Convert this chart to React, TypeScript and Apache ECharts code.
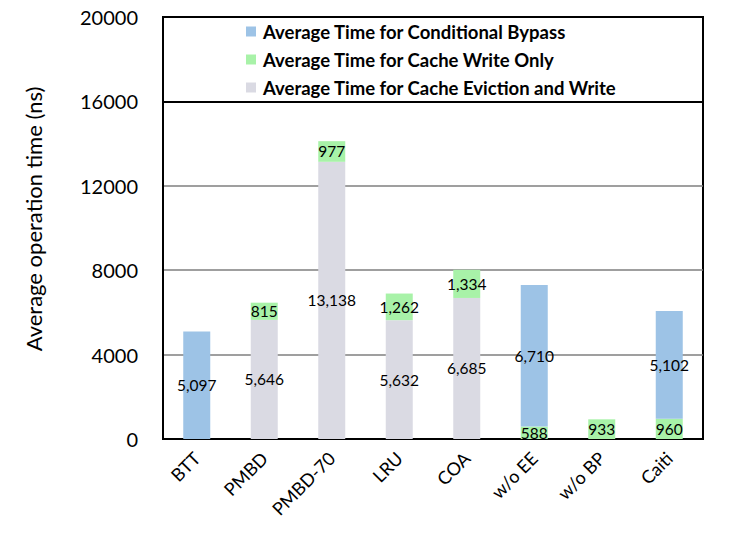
import React, { useEffect, useRef } from "react";
import * as echarts from "echarts";

const categories = ["BTT", "PMBD", "PMBD-70", "LRU", "COA", "w/o EE", "w/o BP", "Caiti"];
const evictionWrite = [null, 5646, 13138, 5632, 6685, null, null, null];
const writeOnly = [null, 815, 977, 1262, 1334, 588, 933, 960];
const bypass = [5097, null, null, null, null, 6710, null, 5102];
const yTicks = { min: 0, max: 20000, interval: 4000 };

const NAME_BYPASS = "Average Time for Conditional Bypass";
const NAME_WRITE = "Average Time for Cache Write Only";
const NAME_EVICT = "Average Time for Cache Eviction and Write";

const FONT = "Lato, 'Noto Sans', sans-serif";

export default function App() {
  const ref = useRef<HTMLDivElement>(null);
  useEffect(() => {
    if (!ref.current) return;
    const chart = echarts.init(ref.current, null, { renderer: "svg" });
    const toData = (arr: (number | null)[]) => arr.map((v) => (v == null ? "-" : v));
    const label = {
      show: true,
      position: "inside",
      color: "#000",
      fontFamily: FONT,
      fontSize: 15.5,
      formatter: (p: any) => Number(p.value).toLocaleString("en-US"),
    };
    const gridLeft = 163, gridTop = 17, gridW = 540, gridH = 422;
    chart.setOption({
      animation: false,
      textStyle: { fontFamily: FONT },
      grid: {
        left: gridLeft,
        top: gridTop,
        width: gridW,
        height: gridH,
        show: true,
        borderColor: "#000",
        borderWidth: 2,
        backgroundColor: "transparent",
      },
      legend: {
        orient: "vertical",
        left: 246,
        top: 22,
        icon: "rect",
        itemWidth: 10,
        itemHeight: 10,
        itemGap: 9,
        padding: 0,
        data: [NAME_BYPASS, NAME_WRITE, NAME_EVICT],
        textStyle: {
          fontFamily: FONT,
          fontWeight: "bold",
          fontSize: 18.5,
          lineHeight: 18,
          color: "#000",
          padding: [0, 0, 0, 2],
        },
        selectedMode: false,
      },
      graphic: [
        {
          type: "rect",
          shape: { x: gridLeft, y: gridTop, width: gridW, height: 85 },
          style: { fill: "none", stroke: "#000", lineWidth: 2 },
          z: 10,
          silent: true,
        },
        {
          type: "text",
          x: 33,
          y: 219,
          rotation: Math.PI / 2,
          style: {
            text: "Average operation time (ns)",
            fontFamily: FONT,
            fontSize: 22,
            fill: "#000",
            align: "center",
            verticalAlign: "middle",
          },
        },
      ],
      xAxis: {
        type: "category",
        data: categories,
        axisLine: { show: true, lineStyle: { color: "#000", width: 2 } },
        axisTick: { show: false },
        axisLabel: {
          rotate: 45,
          margin: 16,
          color: "#000",
          fontFamily: FONT,
          fontSize: 18,
          interval: 0,
        },
      },
      yAxis: {
        type: "value",
        min: yTicks.min,
        max: yTicks.max,
        interval: yTicks.interval,
        axisLine: { show: true, lineStyle: { color: "#000", width: 2 } },
        axisTick: { show: false },
        axisLabel: {
          margin: 25,
          color: "#000",
          fontFamily: FONT,
          fontSize: 20,
          formatter: (v: number) => String(v),
        },
        splitLine: { show: true, lineStyle: { color: "#7f7f7f", width: 1.5 } },
      },
      series: [
        {
          name: NAME_EVICT,
          type: "bar",
          stack: "total",
          barWidth: 27,
          data: toData(evictionWrite),
          itemStyle: { color: "#DADAE3" },
          label,
        },
        {
          name: NAME_WRITE,
          type: "bar",
          stack: "total",
          barWidth: 27,
          data: toData(writeOnly),
          itemStyle: { color: "#A8F2A8" },
          label,
        },
        {
          name: NAME_BYPASS,
          type: "bar",
          stack: "total",
          barWidth: 27,
          data: toData(bypass),
          itemStyle: { color: "#9DC3E6" },
          label,
        },
      ],
    });
    return () => chart.dispose();
  }, []);
  return (
    <div
      ref={ref}
      style={{ position: "fixed", left: 0, top: 0, width: 747, height: 545, background: "#fff" }}
    />
  );
}
